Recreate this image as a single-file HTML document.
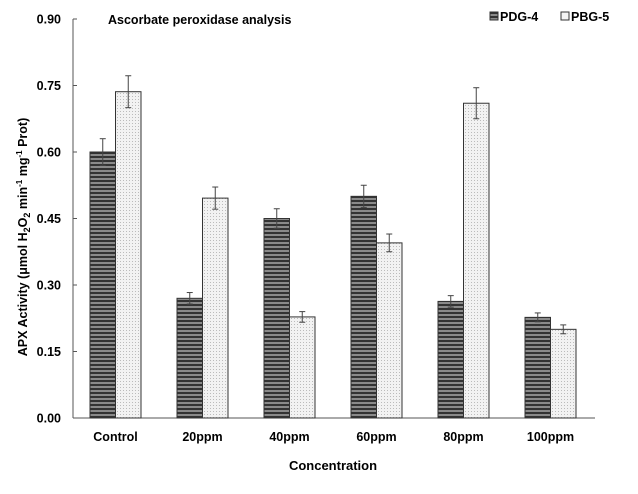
<!DOCTYPE html>
<html><head><meta charset="utf-8"><style>
body{margin:0;background:#fff;}
svg{display:block;font-family:"Liberation Sans",Arial,sans-serif;font-weight:bold;}
</style></head><body>
<svg id="chart" width="638" height="494" viewBox="0 0 638 494">
<defs>
<pattern id="hatch" width="4" height="4" patternUnits="userSpaceOnUse">
<rect width="4" height="4" fill="#8a8a8a"/><rect width="4" height="2" fill="#333"/>
</pattern>
<pattern id="dots" width="3" height="3" patternUnits="userSpaceOnUse">
<rect width="3" height="3" fill="#f2f2f2"/><rect width="1" height="1" fill="#bbb"/>
</pattern>
</defs>
<g id="axes"></g>
<g id="bars"></g>
<text x="108" y="24" font-size="12.5">Ascorbate peroxidase  analysis</text>
<g>
<rect x="490" y="12" width="8" height="8" fill="url(#hatch)" stroke="#333"/>
<text x="500" y="21" font-size="12.5">PDG-4</text>
<rect x="561" y="12" width="8" height="8" fill="#f4f4f4" stroke="#333"/>
<text x="571" y="21" font-size="12.5">PBG-5</text>
</g>
<text x="333" y="470" font-size="13" text-anchor="middle">Concentration</text>
<text transform="translate(27,237) rotate(-90)" font-size="12.5" text-anchor="middle">APX Activity (μmol H<tspan font-size="9" dy="3">2</tspan><tspan dy="-3">O</tspan><tspan font-size="9" dy="3">2</tspan><tspan dy="-3"> min</tspan><tspan font-size="8" dy="-5">-1</tspan><tspan dy="5"> mg</tspan><tspan font-size="8" dy="-5">-1</tspan><tspan dy="5"> Prot)</tspan></text>
</svg>
<script>
const categories=["Control","20ppm","40ppm","60ppm","80ppm","100ppm"];
const pdg4=[0.60,0.27,0.45,0.50,0.263,0.227];
const pdg4Err=[0.03,0.013,0.022,0.025,0.013,0.01];
const pbg5=[0.736,0.496,0.228,0.395,0.71,0.20];
const pbg5Err=[0.036,0.025,0.012,0.02,0.035,0.01];
const yTicks=["0.00","0.15","0.30","0.45","0.60","0.75","0.90"];
const NS="http://www.w3.org/2000/svg";
const X0=73,X1=595,Y0=418,Y1=19,YMAX=0.9;
const y=v=>Y0-(v/YMAX)*(Y0-Y1);
const gw=(X1-X0)/categories.length;
const bw=25.5;
function mk(t,a,p){const e=document.createElementNS(NS,t);for(const k in a)e.setAttribute(k,a[k]);p.appendChild(e);return e;}
const ax=document.getElementById('axes'),bg=document.getElementById('bars');
const yl=mk('line',{x1:X0,y1:Y1,x2:X0,y2:Y0,stroke:'#555','stroke-width':1},ax);


const xl=mk('line',{x1:X0,y1:Y0,x2:X1,y2:Y0,stroke:'#555','stroke-width':1},ax);


yTicks.forEach(t=>{const v=parseFloat(t),yy=y(v);
 const tk=mk('line',{x1:X0,y1:yy,x2:X0+4,y2:yy,stroke:'#555'},ax);
 
 
 const tx=mk('text',{x:X0-12,y:yy+4.5,'font-size':12.5,'text-anchor':'end'},ax);tx.textContent=t;
 
 
});
function err(cx,v,e){
 const g=mk('g',{stroke:'#444','stroke-width':1},bg);
 
 
 mk('line',{x1:cx,y1:y(v+e),x2:cx,y2:y(v-e)},g);
 mk('line',{x1:cx-3,y1:y(v+e),x2:cx+3,y2:y(v+e)},g);
 mk('line',{x1:cx-3,y1:y(v-e),x2:cx+3,y2:y(v-e)},g);
}
categories.forEach((c,i)=>{
 const cx=X0+gw*(i+0.5)-1;
 const a=mk('rect',{x:cx-bw,y:y(pdg4[i]),width:bw,height:Y0-y(pdg4[i]),fill:'url(#hatch)',stroke:'#333','stroke-width':1},bg);
 
 
 const b=mk('rect',{x:cx,y:y(pbg5[i]),width:bw,height:Y0-y(pbg5[i]),fill:'url(#dots)',stroke:'#333','stroke-width':1},bg);
 
 
 err(cx-bw/2,pdg4[i],pdg4Err[i]);
 err(cx+bw/2,pbg5[i],pbg5Err[i]);
 const t=mk('text',{x:cx,y:441,'font-size':12.5,'text-anchor':'middle'},bg);t.textContent=c;
 
 
});
</script>
</body></html>
